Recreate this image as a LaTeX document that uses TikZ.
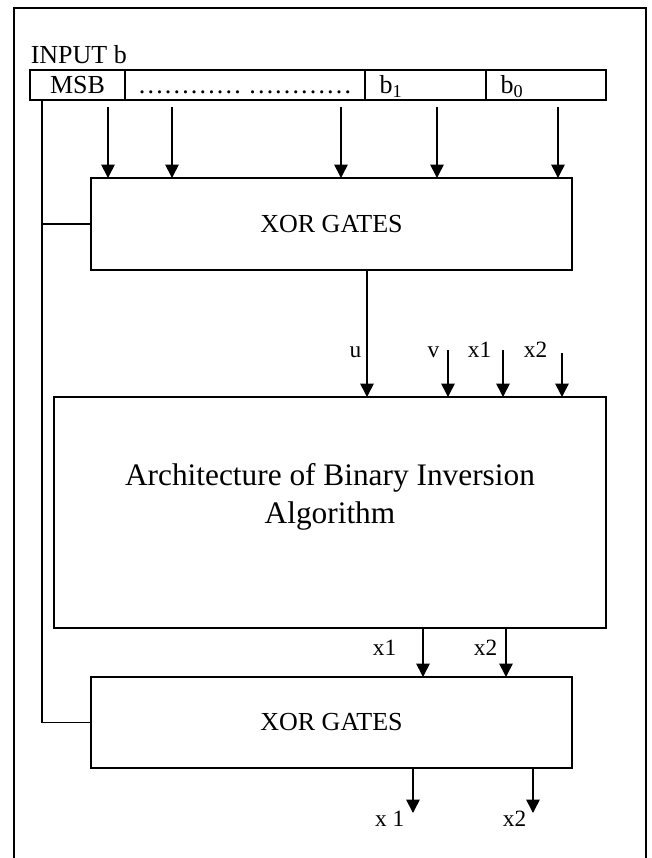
\documentclass[tikz,border=0pt]{standalone}
\usepackage{fontspec}
\setmainfont{Liberation Serif}
\usetikzlibrary{positioning, arrows.meta}

\begin{document}
\begin{tikzpicture}[x=0.75pt, y=-0.75pt, line width=1.2pt,
  >={Triangle[length=10pt, width=10pt]},
  cell/.style={draw, outer sep=0pt, inner ysep=0pt, minimum height=22.5pt,
    text height=13pt, text depth=0pt, font=\fontsize{19.5}{23}\selectfont},
  bitcell/.style={cell, inner xsep=11pt, text width=#1, align=left},
  block/.style={draw, outer sep=0pt, minimum width=360.75pt, font=\fontsize{19.5}{23}\selectfont},
  sig/.style={inner sep=0pt, anchor=base east, font=\fontsize{17.5}{21}\selectfont}]
  \useasboundingbox (0,0) rectangle (652,858);
  \draw (14,858) |- (646,8) -- (646,858);

  % input register
  \node[anchor=base west, inner sep=0pt, font=\fontsize{19.5}{23}\selectfont] (title) at (30,63) {INPUT b};
  \node[cell, minimum width=71.25pt, anchor=west] (msb) at (30,85) {MSB};
  \node[cell, minimum width=180pt, right=0pt of msb] (dots) {………… …………};
  \node[bitcell=68.75pt, right=0pt of dots] (b1) {b\textsubscript{1}};
  \node[bitcell=68pt, right=0pt of b1] (b0) {b\textsubscript{0}};

  \node[block, minimum height=69pt] (xortop) at (331.5,224) {XOR GATES};
  \node[block, minimum width=414pt, minimum height=173.25pt] (arch) at (330,512.5) {};
  \node[align=center, font=\fontsize{23.5}{28.5}\selectfont] (archtext) at ([yshift=12pt]arch.center)
    {Architecture of Binary Inversion\\Algorithm};
  \node[block, minimum height=68.25pt] (xorbot) at (331.5,722.5) {XOR GATES};

  % MSB line to both gate rows
  \coordinate (bus) at (42,0);
  \draw (msb.south -| bus) |- (xorbot.west);
  \draw (xortop.west -| bus) -- (xortop.west);

  \foreach \x in {108,172,341,437,558} {
    \coordinate (tap) at (\x,0);
    \draw[->, shorten <=5.25pt] (msb.south -| tap) -- (xortop.north -| tap);
  }

  \coordinate (uline) at (367,0);
  \draw[->] (xortop.south -| uline) -- (arch.north -| uline);
  \node[sig] (ulbl) at (362,357) {u};

  \coordinate (vin) at (448,350);
  \coordinate (x1in) at (503,350);
  \coordinate (x2in) at (562,353);
  \draw[->] (vin) -- (vin |- arch.north);
  \draw[->] (x1in) -- (x1in |- arch.north);
  \draw[->] (x2in) -- (x2in |- arch.north);
  \node[sig] (vlbl) at (440,357) {v};
  \node[sig] (x1lbl) at (492,357) {x1};
  \node[sig] (x2lbl) at (548,357) {x2};

  \coordinate (x1mid) at (423,0);
  \coordinate (x2mid) at (506,0);
  \draw[->] (arch.south -| x1mid) -- (xorbot.north -| x1mid);
  \draw[->] (arch.south -| x2mid) -- (xorbot.north -| x2mid);
  \node[sig] (x1midlbl) at (397,655) {x1};
  \node[sig] (x2midlbl) at (498,655) {x2};

  \coordinate (out1) at (413,813);
  \coordinate (out2) at (533,813);
  \draw[->] (xorbot.south -| out1) -- (out1);
  \draw[->] (xorbot.south -| out2) -- (out2);
  \node[sig] (out1lbl) at (405,826) {x 1};
  \node[sig] (out2lbl) at (527,826) {x2};
\end{tikzpicture}
\end{document}
